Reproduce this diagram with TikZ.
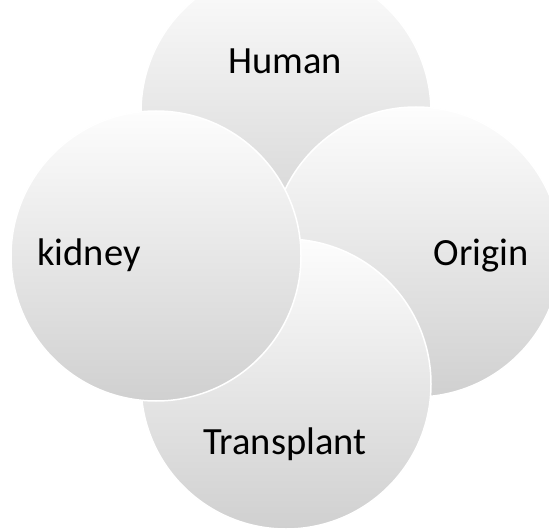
\documentclass[tikz,border=0pt]{standalone}
\usepackage{fontspec}
\setmainfont{Carlito}
\definecolor{ctop}{HTML}{FDFDFD}
\definecolor{cbot}{HTML}{D0D0D0}
\begin{document}
\begin{tikzpicture}[x=1pt,y=-1pt,
  ring/.style={circle, inner sep=0pt, minimum size=290pt, draw=white, line width=1.5pt,
    top color=ctop, bottom color=cbot},
  lbl/.style={anchor=base, font=\fontsize{38.5}{46}\selectfont, text=black}]
\useasboundingbox (0,0) rectangle (549,532);
\clip (0,0) rectangle (549,532);
\fill[white] (0,0) rectangle (549,532);
\node[ring] (human) at (286,112) {};
\node[ring] (origin) at (416,252) {};
\node[ring] (transplant) at (286,384) {};
\node[ring] (kidney) at (156,256) {};
\node[lbl] (thuman) at (285,74) {Human};
\node[lbl] (tkidney) at (89,265) {kidney};
\node[lbl] (torigin) at (481,265) {Origin};
\node[lbl] (ttransplant) at (285,454) {Transplant};
\end{tikzpicture}
\end{document}
